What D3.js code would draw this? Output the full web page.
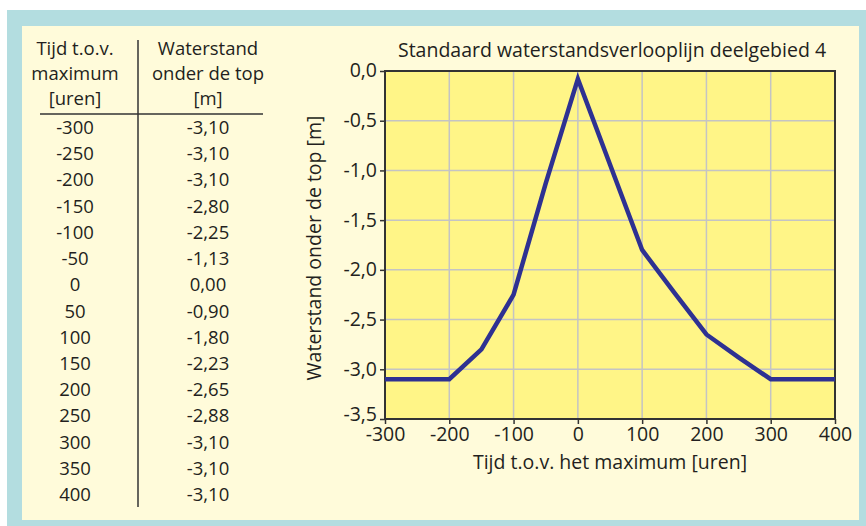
<!DOCTYPE html>
<html><head><meta charset="utf-8">
<script src="https://cdn.jsdelivr.net/npm/d3@7"></script>
<style>body{margin:0;background:#fff}svg{display:block;font-family:"Open Sans",sans-serif}</style>
</head><body>
<svg id="c" width="866" height="526"></svg>
<script>
// Table data
const tableTimes = ["-300","-250","-200","-150","-100","-50","0","50","100","150","200","250","300","350","400"];
const tableLevels = ["-3,10","-3,10","-3,10","-2,80","-2,25","-1,13","0,00","-0,90","-1,80","-2,23","-2,65","-2,88","-3,10","-3,10","-3,10"];
const headerCol1 = ["Tijd t.o.v.","maximum","[uren]"];
const headerCol2 = ["Waterstand","onder de top","[m]"];
// Chart data (as drawn)
const chartTimes = [-300,-250,-200,-150,-100,-50,0,50,100,150,200,250,300,350,400];
const chartLevels = [-3.1,-3.1,-3.1,-2.8,-2.25,-1.13,-0.08,-0.94,-1.8,-2.23,-2.65,-2.88,-3.1,-3.1,-3.1];
const xTicks = [-300,-200,-100,0,100,200,300,400];
const yTicks = [0,-0.5,-1.0,-1.5,-2.0,-2.5,-3.0,-3.5];
const chartTitle = "Standaard waterstandsverlooplijn deelgebied 4";
const xTitle = "Tijd t.o.v. het maximum [uren]";
const yTitle = "Waterstand onder de top [m]";

const svg = d3.select("#c");
// frame
svg.append("rect").attr("x",7).attr("y",10).attr("width",859).attr("height",516).attr("fill","#b3dde0");
svg.append("rect").attr("x",22).attr("y",26).attr("width",837).attr("height",494).attr("fill","#fffbda");

// Table
const tg = svg.append("g").attr("fill","#231f20").attr("font-size",18.5).attr("text-anchor","middle");
headerCol1.forEach((t,i)=>tg.append("text").attr("x",75).attr("y",55+i*25).text(t));
headerCol2.forEach((t,i)=>tg.append("text").attr("x",208).attr("y",55+i*25).text(t));
svg.append("line").attr("x1",40).attr("x2",263).attr("y1",114).attr("y2",114).attr("stroke","#333").attr("stroke-width",1.5);
svg.append("line").attr("x1",138).attr("x2",138).attr("y1",40).attr("y2",507).attr("stroke","#333").attr("stroke-width",1.5);
const rowY = d3.scalePoint().domain(d3.range(tableTimes.length)).range([134,501]);
tableTimes.forEach((t,i)=>tg.append("text").attr("x",75).attr("y",rowY(i)).text(t));
tableLevels.forEach((t,i)=>tg.append("text").attr("x",208).attr("y",rowY(i)).text(t));

// Chart
const L=385, R=835, T=71, B=419;
const x = d3.scaleLinear().domain([-300,400]).range([L,R]);
const y = d3.scaleLinear().domain([-3.5,0]).range([B,T]);
svg.append("rect").attr("x",L).attr("y",T).attr("width",R-L).attr("height",B-T).attr("fill","#fff587");
const grid = svg.append("g").attr("stroke","#c4c4c4").attr("stroke-width",1.5);
xTicks.slice(1,-1).forEach(v=>grid.append("line").attr("x1",x(v)).attr("x2",x(v)).attr("y1",T).attr("y2",B));
yTicks.slice(1,-1).forEach(v=>grid.append("line").attr("x1",L).attr("x2",R).attr("y1",y(v)).attr("y2",y(v)));

const fmt = d => d3.format(".1f")(d).replace(".",",").replace("−","-");
const xa = svg.append("g").attr("transform",`translate(0,${B})`)
  .call(d3.axisBottom(x).tickValues(xTicks).tickSize(5).tickSizeOuter(0).tickFormat(d=>String(d)));
const ya = svg.append("g").attr("transform",`translate(${L},0)`)
  .call(d3.axisLeft(y).tickValues(yTicks).tickSize(5).tickSizeOuter(0).tickFormat(fmt));
[xa,ya].forEach(a=>{
  a.select(".domain").remove();
  a.selectAll("line").attr("stroke","#333").attr("stroke-width",1.5);
  a.selectAll("text").attr("font-family","'Open Sans',sans-serif").attr("font-size",19.5).attr("fill","#231f20");
});
xa.selectAll("text").attr("dy","0.95em").attr("y",3);
ya.selectAll("text").attr("x",-8).attr("dy","0.3em");
ya.selectAll(".tick").filter(d=>d===-3.5).select("text").attr("dy","0.1em");

svg.append("rect").attr("x",L).attr("y",T).attr("width",R-L).attr("height",B-T)
  .attr("fill","none").attr("stroke","#333").attr("stroke-width",2);

const line = d3.line().x((d,i)=>x(chartTimes[i])).y(d=>y(d));
svg.append("path").datum(chartLevels).attr("d",line).attr("fill","none")
  .attr("stroke","#2e3192").attr("stroke-width",4.5).attr("stroke-linejoin","miter");

svg.append("text").attr("x",612).attr("y",57).attr("text-anchor","middle").attr("font-size",19.5).attr("fill","#231f20").text(chartTitle);
svg.append("text").attr("x",610).attr("y",469).attr("text-anchor","middle").attr("font-size",19.5).attr("fill","#231f20").text(xTitle);
svg.append("text").attr("transform","translate(321,248) rotate(-90)").attr("text-anchor","middle").attr("font-size",19.5).attr("fill","#231f20").text(yTitle);
</script>
</body></html>
